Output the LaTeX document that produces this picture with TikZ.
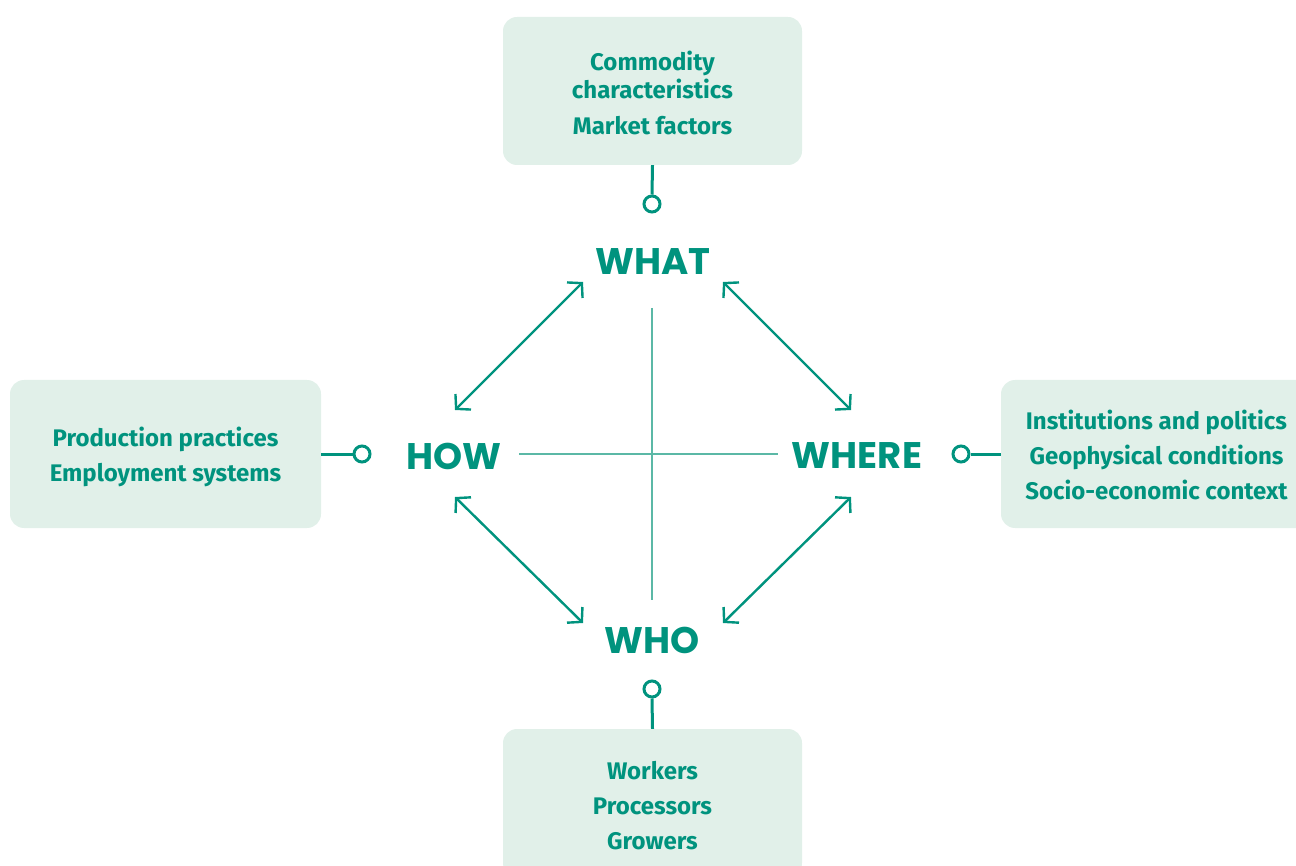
\documentclass[tikz,border=0pt]{standalone}
\usepackage{fontspec}
\setmainfont{Fira Sans}
\newfontfamily\headfont{Poppins}
\usetikzlibrary{arrows.meta}
\definecolor{tealmain}{HTML}{00937E}
\definecolor{boxfill}{HTML}{E1F0E9}
\definecolor{crossc}{HTML}{5BB8A6}
\tikzset{
  infobox/.style={fill=boxfill, rounded corners=14pt, minimum width=311pt, minimum height=148pt,
    inner sep=0pt},
  narrowbox/.style={infobox, minimum width=299pt},
  boxtext/.style={text=tealmain, align=center, inner sep=0pt, font=\fontsize{24}{35}\selectfont\bfseries},
  head/.style={text=tealmain, font=\headfont\bfseries\fontsize{37}{37}\selectfont, inner sep=0pt},
  pin/.style={draw=tealmain, line width=3pt},
  knob/.style={circle, draw=tealmain, line width=3pt, fill=white, minimum size=16pt, inner sep=0pt},
  dbl/.style={draw=tealmain, line width=2.4pt,
    {Straight Barb[length=10pt,width=22pt,line width=2.4pt]}-{Straight Barb[length=10pt,width=22pt,line width=2.4pt]}},
  crossline/.style={draw=crossc, line width=1.2pt}
}
\begin{document}
\begin{tikzpicture}[x=1pt,y=-1pt]
\useasboundingbox (0,0) rectangle (1296,866);
\begin{scope}
\clip (0,0) rectangle (1296,866);
% boxes
\node[narrowbox] (topbox) at (652.5,91) {};
\node[infobox] (leftbox) at (165.5,454) {};
\node[infobox] (rightbox) at (1156.5,454) {};
\node[narrowbox] (botbox) at (652.5,803) {};
\end{scope}
\node[boxtext, font=\fontsize{24}{28}\selectfont\bfseries] (toptxt) at ([yshift=-1.5pt]topbox.center) {Commodity\\characteristics\\[8pt]Market factors};
\node[boxtext] (lefttxt) at ([yshift=-3pt]leftbox.center) {Production practices\\Employment systems};
\node[boxtext] (righttxt) at ([yshift=-1pt]rightbox.center) {Institutions and politics\\Geophysical conditions\\Socio-economic context};
\node[boxtext] (bottxt) at ([yshift=-2.5pt]botbox.center) {Workers\\Processors\\Growers};
% cross
\coordinate (vt) at (652,308);
\coordinate (vb) at (652,600);
\coordinate (hl) at (519,454);
\coordinate (hr) at (778,454);
\draw[crossline] (vt) -- (vb);
\draw[crossline] (hl) -- (hr);
% headings
\node[head] (what) at (653,262) {WHAT};
\node[head] (how) at (454,456) {HOW};
\node[head] (where) at (857,456) {WHERE};
\node[head] (who) at (652,640) {WHO};
% knobs
\node[knob] (k1) at (652,204) {};
\node[knob] (k2) at (362,454) {};
\node[knob] (k3) at (961,454) {};
\node[knob] (k4) at (652,689) {};
\draw[pin] (topbox.south) -- (k1.north);
\draw[pin] (leftbox.east) -- (k2.west);
\draw[pin] (rightbox.west) -- (k3.east);
\draw[pin] (botbox.north) -- (k4.south);
% arrows
\coordinate (a1) at (583,282);
\coordinate (a2) at (455,410);
\coordinate (b1) at (723,282);
\coordinate (b2) at (851,410);
\coordinate (c1) at (455,497);
\coordinate (c2) at (583,623);
\coordinate (d1) at (851,497);
\coordinate (d2) at (723,623);
\draw[dbl] (a1) -- (a2);
\draw[dbl] (b1) -- (b2);
\draw[dbl] (c1) -- (c2);
\draw[dbl] (d1) -- (d2);
\end{tikzpicture}
\end{document}
